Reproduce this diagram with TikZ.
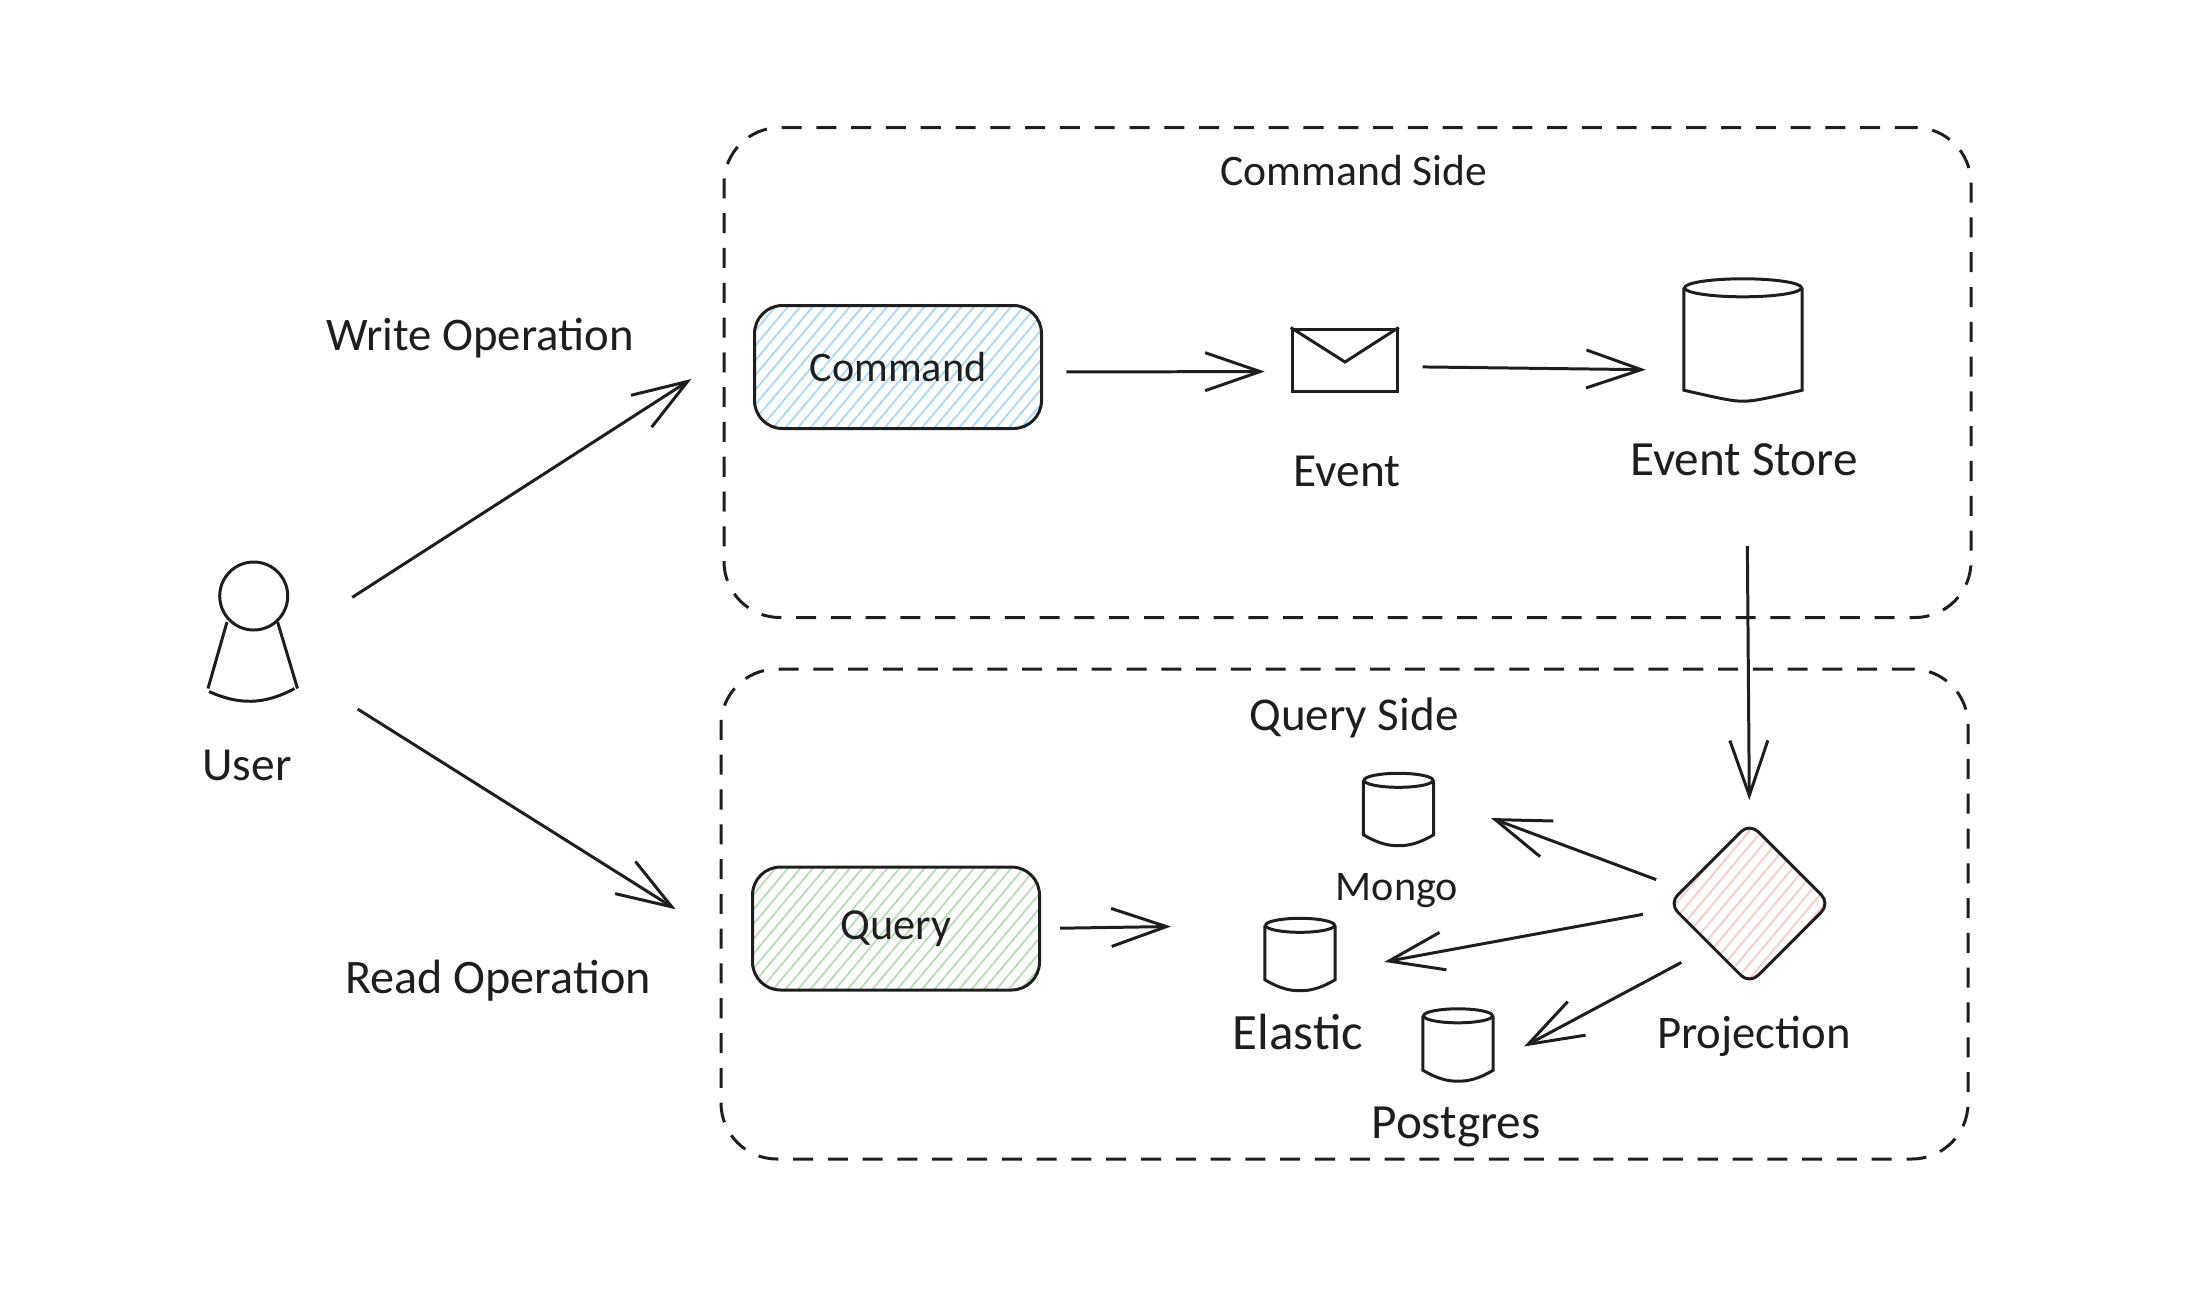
\documentclass[tikz,border=0pt]{standalone}
\usepackage{fontspec}
\setmainfont{Carlito}
\usetikzlibrary{arrows.meta,patterns.meta,shapes.geometric}
\definecolor{ink}{HTML}{1E1E1E}
\definecolor{hatchblue}{HTML}{A5D8FF}
\definecolor{hatchgreen}{HTML}{B5DCB5}
\definecolor{hatchpink}{HTML}{FFC9C9}
\tikzset{
  ink line/.style={draw=ink,line width=0.85pt},
  label text/.style={text=ink,font=\fontsize{#1}{16}\selectfont,inner sep=0pt},
  label text/.default=13.5,
  side frame/.style={draw=ink,line width=0.85pt,dash pattern=on 5.7pt off 4.2pt,
    rounded corners=0.56cm,minimum width=12.47cm,minimum height=4.9cm,inner sep=0pt},
  hatch fill/.style={pattern={Lines[angle=50,distance=0.095cm,line width=0.5pt]},pattern color=#1},
  hatch box/.style={ink line,rounded corners=0.28cm,minimum width=2.87cm,minimum height=1.23cm,
    inner sep=0pt,text=ink,hatch fill=#1},
  flow/.style={ink line,-{Straight Barb[length=5.5mm,width=3.8mm,line width=0.85pt]}}
}
\begin{document}
\begin{tikzpicture}[x=1cm,y=-1cm]
  \useasboundingbox (0,0) rectangle (22,12.9);

  % Side frames
  \node[side frame] (cmdside) at (13.475,3.725) {};
  \node[side frame] (qryside) at (13.445,9.14) {};

  % Boxes
  \node[hatch box=hatchblue,font=\fontsize{12}{16}\selectfont] (cmdbox) at (8.98,3.67) {Command};
  \node[hatch box=hatchgreen,font=\fontsize{12.6}{16}\selectfont] (qrybox) at (8.96,9.285) {Query};
  \node[ink line,diamond,shape aspect=1,rounded corners=0.12cm,minimum width=1.62cm,minimum height=1.62cm,
    inner sep=0pt,hatch fill=hatchpink] (projbox) at (17.495,9.035) {};

  % Envelope
  \node[ink line,minimum width=1.05cm,minimum height=0.62cm,inner sep=0pt] (envelope) at (13.447,3.60) {};
  \coordinate (flap) at (13.45,3.62);
  \draw[ink line] (envelope.north west) -- (flap) -- (envelope.north east);

  % Databases
  \node[minimum width=1.17cm,minimum height=1.21cm,inner sep=0pt] (store) at (17.43,3.40) {};
  \node[minimum width=0.69cm,minimum height=0.71cm,inner sep=0pt] (mongo) at (13.985,8.095) {};
  \node[minimum width=0.69cm,minimum height=0.71cm,inner sep=0pt] (elastic) at (13.0,9.545) {};
  \node[minimum width=0.69cm,minimum height=0.71cm,inner sep=0pt] (postgres) at (14.58,10.45) {};
  \foreach \db/\rx/\ry in {store/0.585/0.09,mongo/0.345/0.07,elastic/0.345/0.07,postgres/0.345/0.07} {
    \draw[ink line] (\db.north) ++(0,\ry) ellipse [x radius=\rx,y radius=\ry];
    \draw[ink line] (\db.north west) ++(0,\ry) -- ([yshift=0.11cm]\db.south west)
      .. controls ([xshift=-0.2cm,yshift=0.02cm]\db.south) and ([xshift=-0.1cm]\db.south) .. (\db.south)
      .. controls ([xshift=0.1cm]\db.south) and ([xshift=0.2cm,yshift=0.02cm]\db.south) .. ([yshift=0.11cm]\db.south east)
      -- ([yshift=-\ry cm]\db.north east);
  }

  % User
  \node[minimum width=0.9cm,minimum height=1.4cm,inner sep=0pt] (user) at (2.527,6.32) {};
  \node[ink line,circle,minimum size=0.68cm,inner sep=0pt] (userhead) at (2.537,5.96) {};
  \draw[ink line] (2.27,6.22) -- (2.08,6.885);
  \draw[ink line] (2.776,6.22) -- (2.975,6.885);
  \draw[ink line] (2.09,6.915) .. controls (2.39,7.05) and (2.64,7.05) .. (2.945,6.885);

  % Labels
  \node[label text=12.4] (cmdtitle) at (13.54,1.71) {Command Side};
  \node[label text=13.4] (qrytitle) at (13.54,7.18) {Query Side};
  \node[label text=13.3] (writelabel) at (4.80,3.38) {Write Operation};
  \node[label text=13.7] (readlabel) at (4.98,9.81) {Read Operation};
  \node[label text] (userlabel) at (2.47,7.65) {User};
  \node[label text] (eventlabel) at (13.47,4.71) {Event};
  \node[label text=14] (storelabel) at (17.44,4.60) {Event Store};
  \node[label text=12] (mongolabel) at (13.97,8.91) {Mongo};
  \node[label text=14.5] (elasticlabel) at (12.98,10.32) {Elastic};
  \node[label text=14] (postgreslabel) at (14.56,11.27) {Postgres};
  \node[label text=13.3] (projlabel) at (17.54,10.36) {Projection};

  % Arrows
  \coordinate (qryend) at (11.71,9.265);
  \draw[flow,shorten <=0.64cm,shorten >=0.74cm] (user.east) -- (cmdbox.169);
  \draw[flow,shorten <=0.70cm,shorten >=0.89cm] (user.-41.6) -- (qrybox.191);
  \draw[flow,shorten <=0.24cm,shorten >=0.26cm] (cmdbox.-2.4) -- (envelope.192.9);
  \draw[flow,shorten <=0.24cm,shorten >=0.38cm] (envelope.-7.6) -- (store.207);
  \draw[flow,shorten <=1.45cm,shorten >=0.21cm] (store.-87) -- (projbox.north);
  \draw[flow,shorten <=0.19cm] (qrybox.east) -- (qryend);
  \draw[flow,shorten <=0.27cm,shorten >=0.61cm] (projbox.168) -- (mongo.20);
  \draw[flow,shorten <=0.30cm,shorten >=0.50cm] (projbox.184.4) -- (elastic.-25);
  \draw[flow,shorten <=0.33cm,shorten >=0.35cm] (projbox.228) -- (postgres.-27.7);
\end{tikzpicture}
\end{document}
